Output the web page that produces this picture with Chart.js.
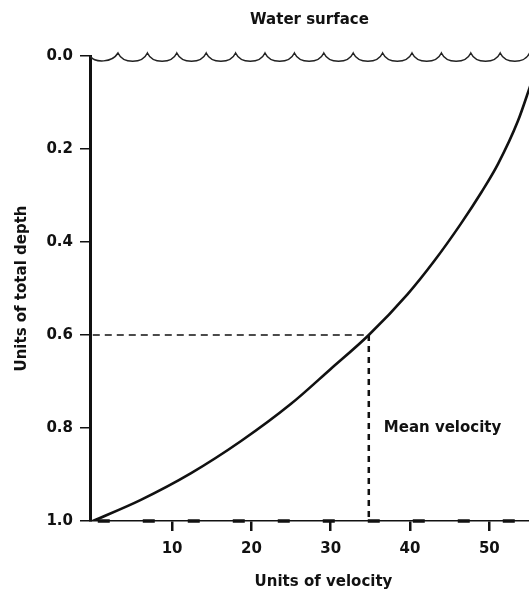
<!DOCTYPE html>
<html>
<head>
<meta charset="utf-8">
<script src="https://cdn.jsdelivr.net/npm/chart.js@4/dist/chart.umd.min.js"></script>
<style>
  html, body { margin:0; padding:0; background:#fff; }
  #wrap { width:529px; height:592px; }
</style>
</head>
<body>
<div id="wrap"><canvas id="chart" width="529" height="592"></canvas></div>
<script>
const velocity = [0, 6, 12.4, 18.7, 25, 30, 34.8, 39.7, 43, 46.4, 49, 51.1, 53.6, 55.3];
const depth    = [1.0, 0.955, 0.897, 0.828, 0.748, 0.673, 0.6, 0.512, 0.442, 0.361, 0.293, 0.232, 0.14, 0.057];
const meanVelocity = 34.8;
const meanDepth = 0.6;
const bedDepth = 1.0;
const xTicks = [10, 20, 30, 40, 50];
const yTicks = [0, 0.2, 0.4, 0.6, 0.8, 1.0];

const FONT = "'DejaVu Sans', 'Liberation Sans', sans-serif";
const INK = '#111';

const profile = velocity.map((v, i) => ({ x: v, y: depth[i] }));
const meanH = [{ x: 0, y: meanDepth }, { x: meanVelocity, y: meanDepth }];
const meanV = [{ x: meanVelocity, y: meanDepth }, { x: meanVelocity, y: bedDepth }];
const bed = [{ x: 0, y: bedDepth }, { x: 55, y: bedDepth }];

const decor = {
  id: 'decor',
  afterDatasetsDraw(chart) {
    const { ctx, chartArea: a, scales: { x, y } } = chart;
    ctx.save();
    // wavy water surface along the top of the plot
    ctx.strokeStyle = '#222';
    ctx.lineWidth = 1.5;
    const top = a.top;
    const step = 29.4;
    let cusp = a.left + 28;
    ctx.beginPath();
    ctx.moveTo(a.left, top);
    ctx.bezierCurveTo(a.left + 5, top + 7, cusp - 6, top + 7, cusp, top - 3);
    while (cusp < a.right + step) {
      const nx = cusp + step;
      ctx.bezierCurveTo(cusp + 5, top + 8, nx - 5, top + 8, nx, top - 3);
      cusp = nx;
    }
    ctx.stroke();

    // labels
    ctx.fillStyle = INK;
    ctx.textBaseline = 'middle';
    ctx.font = 'bold 15px ' + FONT;
    ctx.textAlign = 'left';
    ctx.fillText('Mean velocity', x.getPixelForValue(meanVelocity) + 15, y.getPixelForValue(0.8));
    ctx.textAlign = 'center';
    ctx.fillText('Units of velocity', (a.left + a.right) / 2 + 14, 582);
    ctx.restore();
  }
};

new Chart(document.getElementById('chart'), {
  type: 'scatter',
  data: {
    datasets: [
      { data: profile, showLine: true, borderColor: INK, borderWidth: 2.6, pointRadius: 0,
        cubicInterpolationMode: 'monotone' },
      { data: meanH, showLine: true, borderColor: INK, borderWidth: 1.5, borderDash: [7, 5], pointRadius: 0 },
      { data: meanV, showLine: true, borderColor: INK, borderWidth: 2.5, borderDash: [6, 5], pointRadius: 0 },
      { data: bed, showLine: true, borderColor: INK, borderWidth: 3.5, borderDash: [12, 33], borderDashOffset: 40,
        pointRadius: 0, clip: false },
    ]
  },
  options: {
    responsive: false,
    animation: false,
    events: [],
    layout: { padding: 0 },
    plugins: {
      legend: { display: false },
      tooltip: { enabled: false },
      title: {
        display: true, text: 'Water surface', fullSize: false, color: INK,
        font: { family: FONT, size: 15, weight: 'bold' },
        padding: { top: 11, bottom: 27 }
      }
    },
    scales: {
      x: {
        type: 'linear', min: -0.35, max: 55,
        afterBuildTicks: s => { s.ticks = xTicks.map(v => ({ value: v })); },
        afterFit: s => { s.height = 71; },
        border: { color: INK, width: 1.5 },
        grid: { drawOnChartArea: false, drawTicks: true, tickLength: 10, color: INK, lineWidth: 2.5 },
        ticks: { color: INK, padding: 9, font: { family: FONT, size: 15, weight: 'bold' } }
      },
      y: {
        type: 'linear', min: 0, max: 1, reverse: true,
        afterBuildTicks: s => { s.ticks = yTicks.map(v => ({ value: v })); },
        afterFit: s => { s.width = 90; },
        border: { color: INK, width: 3 },
        grid: { drawOnChartArea: false, drawTicks: true, tickLength: 10, color: INK, lineWidth: 1.5 },
        ticks: { color: INK, padding: 7, font: { family: FONT, size: 15, weight: 'bold' },
          callback: v => v.toFixed(1) },
        title: { display: true, text: 'Units of total depth', color: INK,
          font: { family: FONT, size: 15, weight: 'bold' }, padding: { top: 13, bottom: 0 } }
      }
    }
  },
  plugins: [decor]
});
</script>
</body>
</html>
